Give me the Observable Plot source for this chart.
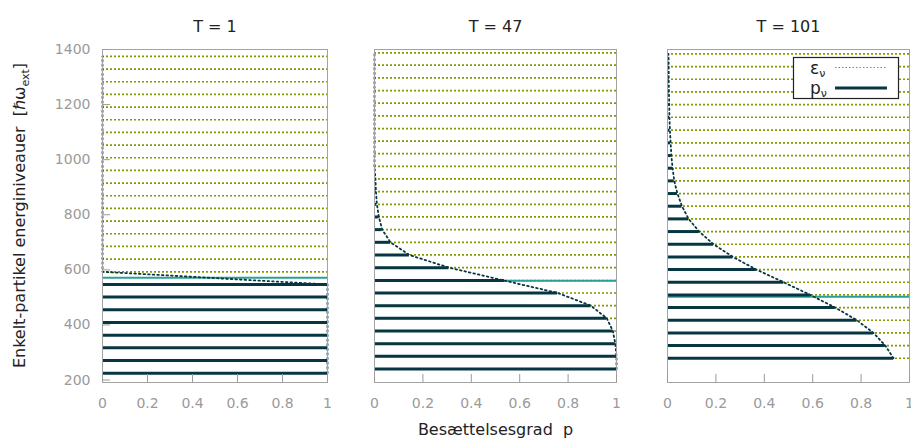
<!DOCTYPE html>
<html>
<head>
<meta charset="utf-8">
<script src="https://cdn.jsdelivr.net/npm/d3@7"></script>
<script src="https://cdn.jsdelivr.net/npm/@observablehq/plot@0.6"></script>
<style>
  html, body { margin: 0; padding: 0; background: #fff; }
  #chart { position: relative; width: 911px; height: 441px; overflow: hidden; font-family: "DejaVu Sans", sans-serif; }
  #chart > svg { position: absolute; top: 0; }
</style>
</head>
<body>
<div id="chart"></div>
<script>
// Temperatures of the three panels
const temperatures = [1, 47, 101];

// Single-particle energy levels ε_ν and occupations p_ν for each temperature
const levelsT1 = [225, 271, 317, 363, 409, 455, 501, 547, 593, 639, 685, 731, 777, 823, 869, 915, 961, 1007, 1053, 1099, 1145, 1191, 1237, 1283, 1329, 1375];
const occT1    = [1, 1, 1, 1, 1, 1, 1, 1, 0, 0, 0, 0, 0, 0, 0, 0, 0, 0, 0, 0, 0, 0, 0, 0, 0, 0];

const levelsT47 = [240, 286, 332, 378, 424, 470, 516, 561, 608, 654, 700, 746, 792, 838, 884, 930, 976, 1022, 1067, 1113, 1159, 1205, 1251, 1297, 1343, 1388];
const occT47    = [1, 1, 0.995, 0.985, 0.96, 0.894, 0.757, 0.537, 0.308, 0.144, 0.066, 0.032, 0.018, 0.01, 0.006, 0.004, 0, 0, 0, 0, 0, 0, 0, 0, 0, 0];

const levelsT101 = [279, 325, 371, 417, 463, 509, 555, 601, 647, 693, 739, 785, 831, 877, 923, 969, 1015, 1061, 1107, 1154, 1200, 1246, 1292, 1338, 1384];
const occT101    = [0.934, 0.9, 0.851, 0.783, 0.693, 0.59, 0.48, 0.367, 0.27, 0.19, 0.131, 0.087, 0.06, 0.041, 0.028, 0.021, 0.016, 0.013, 0.01, 0.008, 0.007, 0.006, 0.005, 0.005, 0.004];

// Chemical potential μ for each temperature
const chemPot = [571, 560, 502];

// Axis ticks
const xTicks = [0, 0.2, 0.4, 0.6, 0.8, 1];
const yTicks = [200, 400, 600, 800, 1000, 1200, 1400];

const levelColor = "#859900";
const barColor = "#073642";
const muColor = "#2aa198";
const frameColor = "#a3a3a3";
const tickTextColor = "#9a9a9a";
const textColor = "#222";

const chart = document.getElementById("chart");

function panel({T, levels, occ, mu, left, width, marginLeft, marginRight, yAxis, xLabel}) {
  const rows = levels.map((e, i) => ({e, p: occ[i]}));
  const marks = [
    Plot.ruleY(rows, {y: "e", x1: 0, x2: 1, stroke: levelColor, strokeWidth: 1.7, strokeDasharray: "2,2"}),
    Plot.ruleY([mu], {stroke: muColor, strokeWidth: 2}),
    Plot.ruleY(rows.filter(d => d.p > 0), {y: "e", x1: 0, x2: "p", stroke: barColor, strokeWidth: 3}),
    Plot.line(rows, {x: "p", y: "e", stroke: barColor, strokeWidth: 1.8, strokeDasharray: "1.6,3"}),
    Plot.frame({stroke: frameColor}),
    Plot.axisX({ticks: xTicks, tickFormat: d => String(d), tickSize: -8, tickPadding: 24,
                color: tickTextColor, label: null, fontSize: 14}),
    Plot.text([`T = ${T}`], {frameAnchor: "top", dy: -29, fontSize: 16, fill: textColor})
  ];
  if (yAxis) {
    marks.push(Plot.axisY({ticks: yTicks, tickFormat: d => String(d), tickSize: -8, tickPadding: 20,
                           color: tickTextColor, label: null, fontSize: 14}));
  }
  if (xLabel) {
    marks.push(Plot.text([xLabel], {frameAnchor: "bottom", dy: 52, fontSize: 16, fill: textColor}));
  }
  const svg = Plot.plot({
    width, height: 441,
    marginTop: 49, marginBottom: 59, marginLeft, marginRight,
    x: {domain: [0, 1]},
    y: {domain: [191, 1400], axis: yAxis ? undefined : null},
    style: {fontFamily: "DejaVu Sans", fontSize: "14px", background: "transparent", overflow: "visible"},
    marks
  });
  svg.style.left = left + "px";
  chart.appendChild(svg);
  return svg;
}

panel({T: temperatures[0], levels: levelsT1, occ: occT1, mu: chemPot[0],
  left: 0, width: 340, marginLeft: 102, marginRight: 13, yAxis: true});
panel({T: temperatures[1], levels: levelsT47, occ: occT47, mu: chemPot[1],
  left: 350, width: 280, marginLeft: 24, marginRight: 14, yAxis: false,
  xLabel: "Besættelsesgrad\u00a0\u00a0p"});
panel({T: temperatures[2], levels: levelsT101, occ: occT101, mu: chemPot[2],
  left: 640, width: 271, marginLeft: 27, marginRight: 2, yAxis: false});

// Overlay: y-axis title with subscript and the key box
const overlay = d3.select(chart).append("svg")
  .attr("width", 911).attr("height", 441)
  .style("left", "0px")
  .attr("font-family", "DejaVu Sans");

const ylab = overlay.append("text")
  .attr("transform", "translate(19,215.5) rotate(-90)")
  .attr("text-anchor", "middle")
  .attr("dy", "0.35em")
  .attr("font-size", 16)
  .attr("fill", textColor);
ylab.append("tspan").text("Enkelt-partikel energiniveauer\u00a0\u00a0[\u210Fω");
ylab.append("tspan").attr("dy", 4).attr("font-size", 11).text("ext");
ylab.append("tspan").attr("dy", -4).text("]");

const key = overlay.append("g");
key.append("rect")
  .attr("x", 793.5).attr("y", 57.5).attr("width", 105).attr("height", 41)
  .attr("fill", "#fff").attr("stroke", "#222").attr("stroke-width", 1.2);
const keyRows = [
  {sym: "ε", y: 74, lineY: 67.5, stroke: levelColor, width: 1, dash: "1.5,2"},
  {sym: "p", y: 94, lineY: 88, stroke: barColor, width: 3, dash: null}
];
for (const r of keyRows) {
  const t = key.append("text").attr("x", 810).attr("y", r.y)
    .attr("font-size", 17).attr("fill", textColor);
  t.append("tspan").text(r.sym);
  t.append("tspan").attr("dy", 3).attr("font-size", 11).text("ν");
  key.append("line")
    .attr("x1", 835).attr("x2", 887).attr("y1", r.lineY).attr("y2", r.lineY)
    .attr("stroke", r.stroke).attr("stroke-width", r.width)
    .attr("stroke-dasharray", r.dash);
}
</script>
</body>
</html>
